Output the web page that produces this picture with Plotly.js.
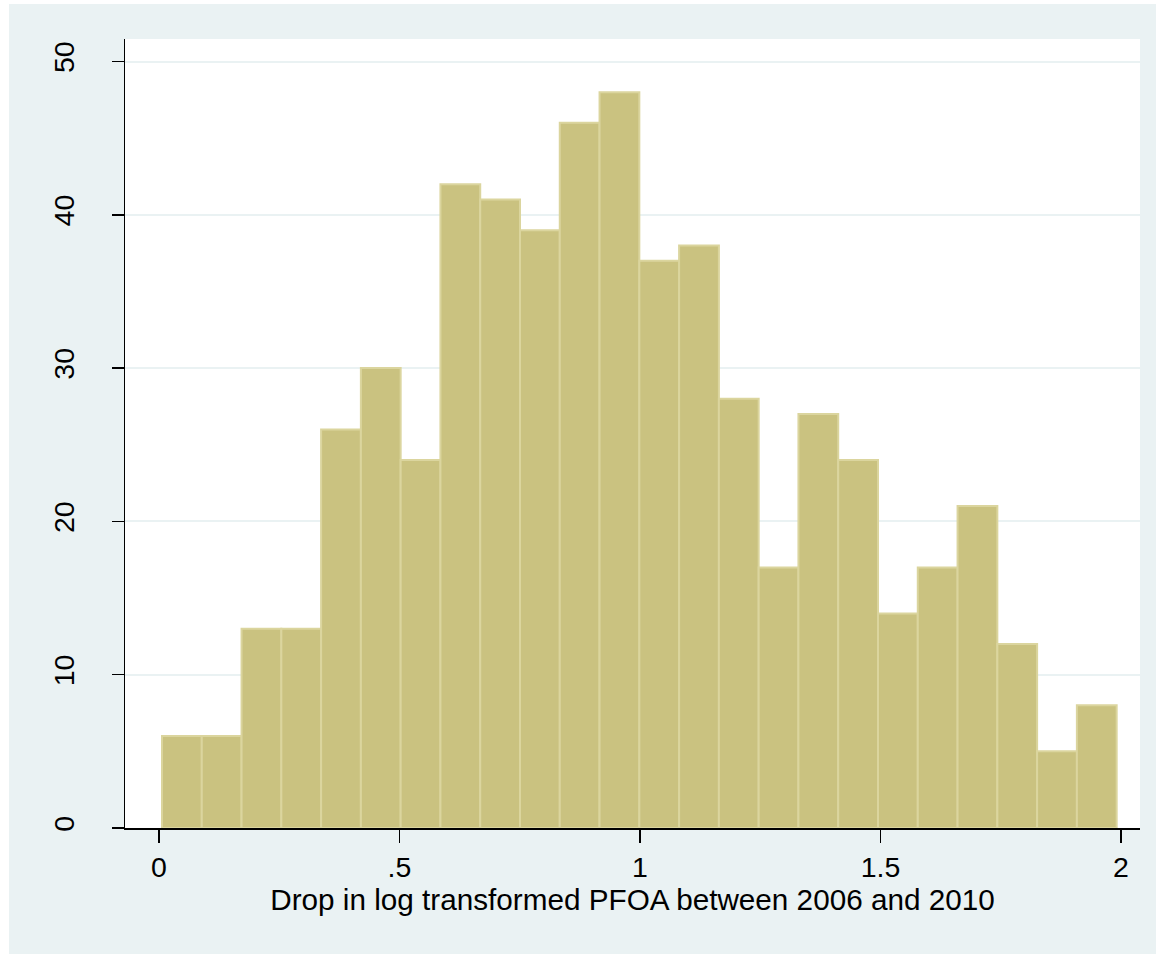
<!DOCTYPE html>
<html>
<head>
<meta charset="utf-8">
<script src="https://cdn.plot.ly/plotly-3.0.1.min.js"></script>
<style>
  html, body { margin: 0; padding: 0; background: #ffffff; width: 1156px; height: 954px; overflow: hidden; }
  #chart { position: absolute; left: 9px; top: 4px; width: 1147px; height: 950px; }
</style>
</head>
<body>
<div id="chart"></div>
<script>
// Histogram counts (24 bins)
const counts = [6, 6, 13, 13, 26, 30, 24, 42, 41, 39, 46, 48, 37, 38, 28, 17, 27, 24, 14, 17, 21, 12, 5, 8];
const binStart = 0.0062;
const binWidth = 0.0827;
const xTickVals = [0, 0.5, 1, 1.5, 2];
const xTickText = ["0", ".5", "1", "1.5", "2"];
const yTickVals = [0, 10, 20, 30, 40, 50];
const yTickText = ["0", "10", "20", "30", "40", "50"];
const xTitle = "Drop in log transformed PFOA between 2006 and 2010";

const centers = counts.map((c, i) => binStart + (i + 0.5) * binWidth);

const trace = {
  type: "bar",
  x: centers,
  y: counts,
  width: counts.map(() => binWidth),
  marker: { color: "#CAC280", line: { color: "#DBD59E", width: 2 } },
  hoverinfo: "x+y"
};

const font = { family: "Liberation Sans, Arial, sans-serif", color: "#000000" };

const layout = {
  width: 1147,
  height: 950,
  paper_bgcolor: "#EAF2F3",
  plot_bgcolor: "#FFFFFF",
  margin: { l: 116, r: 16, t: 35, b: 126, pad: 0 },
  showlegend: false,
  bargap: 0,
  font: font,
  xaxis: {
    range: [-0.0707, 2.0395],
    tickvals: xTickVals,
    ticktext: xTickText,
    ticks: "outside",
    ticklen: 13,
    tickwidth: 1.5,
    tickcolor: "#000000",
    tickfont: { family: font.family, size: 28.5, color: "#000000" },
    showgrid: false,
    zeroline: false,
    showline: true,
    linecolor: "#000000",
    linewidth: 1.5,
    automargin: false,
    title: { text: xTitle, font: { family: font.family, size: 29.7, color: "#000000" }, standoff: 6 }
  },
  yaxis: {
    range: [0, 51.47],
    tickvals: yTickVals,
    ticktext: yTickText,
    ticks: "outside",
    ticklen: 12,
    tickwidth: 1.5,
    tickcolor: "#000000",
    tickangle: -90,
    ticklabelstandoff: 26,
    tickfont: { family: font.family, size: 28.5, color: "#000000" },
    showgrid: true,
    gridcolor: "#EAF2F3",
    gridwidth: 2,
    zeroline: false,
    showline: true,
    linecolor: "#000000",
    linewidth: 1.5,
    automargin: false
  }
};

Plotly.newPlot("chart", [trace], layout, { displayModeBar: false, staticPlot: true });
</script>
</body>
</html>
